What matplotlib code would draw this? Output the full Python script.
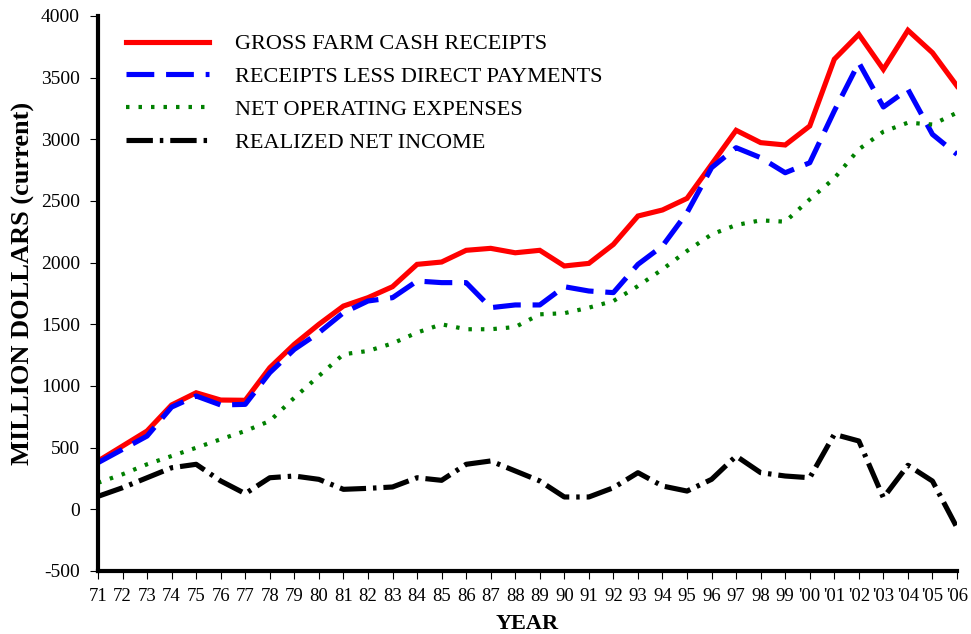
import matplotlib
matplotlib.use("Agg")
import matplotlib.pyplot as plt

plt.rcParams["font.family"] = ["Liberation Serif", "DejaVu Serif"]
plt.rcParams["lines.scale_dashes"] = False
plt.rcParams["axes.unicode_minus"] = False

# data (million dollars, current)
years = list(range(1971, 2007))
year_labels = [str(y)[2:] for y in range(1971, 2000)] + ["'%02d" % (y - 2000) for y in range(2000, 2007)]

gross_receipts = [391, 513, 635, 846, 945, 886, 884, 1148, 1338, 1500,
                  1648, 1716, 1805, 1986, 2005, 2100, 2116, 2080, 2100, 1973,
                  1994, 2148, 2378, 2427, 2521, 2797, 3073, 2973, 2954, 3108,
                  3649, 3851, 3567, 3884, 3702, 3432]
less_direct = [378, 486, 594, 829, 919, 846, 851, 1108, 1297, 1432,
               1594, 1689, 1716, 1851, 1838, 1838, 1635, 1657, 1657, 1805,
               1770, 1757, 1986, 2135, 2405, 2770, 2932, 2851, 2729, 2810,
               3230, 3621, 3262, 3405, 3040, 2878]
net_expenses = [215, 284, 365, 432, 499, 568, 635, 716, 905, 1081,
                1257, 1284, 1345, 1433, 1500, 1460, 1460, 1478, 1581, 1590,
                1635, 1689, 1810, 1946, 2095, 2229, 2305, 2343, 2332, 2513,
                2684, 2919, 3062, 3135, 3120, 3216]
net_income = [105, 175, 256, 337, 365, 230, 127, 256, 270, 243,
              162, 170, 181, 256, 235, 365, 392, 311, 230, 100,
              100, 175, 297, 189, 148, 243, 432, 297, 270, 256,
              608, 554, 94, 357, 229, -149]

fig = plt.figure(figsize=(9.71, 6.34), dpi=100)
ax = fig.add_axes([0.1009, 0.0994, 0.8847, 0.8754])

ax.plot(years, gross_receipts, color="#ff0000", lw=3.7, solid_joinstyle="miter",
        label="GROSS FARM CASH RECEIPTS")
ax.plot(years, less_direct, color="#0000ff", lw=3.7, dashes=(20, 8.5),
        label="RECEIPTS LESS DIRECT PAYMENTS")
ax.plot(years, net_expenses, color="#008000", lw=3.0, dashes=(2.5, 6.5),
        label="NET OPERATING EXPENSES")
ax.plot(years, net_income, color="black", lw=3.7, dashes=(19, 5, 2.5, 5),
        label="REALIZED NET INCOME")

ax.set_xlim(1971, 2006)
ax.set_ylim(-500, 4000)
ax.set_yticks(range(-500, 4001, 500))
ax.set_xticks(years)
ax.set_xticklabels(year_labels)

for s in ["top", "right"]:
    ax.spines[s].set_visible(False)
for s in ["left", "bottom"]:
    ax.spines[s].set_linewidth(3)

ax.tick_params(axis="y", length=6, width=0.8, pad=7, labelsize=14)
ax.tick_params(axis="x", length=6, width=0.8, pad=6, labelsize=13.5)

ax.set_ylabel("MILLION DOLLARS (current)", fontsize=19, fontweight="bold")
ax.yaxis.set_label_coords(-0.073, 0.518)
ax.set_xlabel("YEAR", fontsize=16, fontweight="bold", labelpad=7)

ax.legend(loc="upper left", bbox_to_anchor=(0.033, 0.968), frameon=False,
          fontsize=16, handlelength=3.7, handletextpad=1.2, labelspacing=0.55,
          borderpad=0, borderaxespad=0)

fig.savefig("out.png", dpi=100)
